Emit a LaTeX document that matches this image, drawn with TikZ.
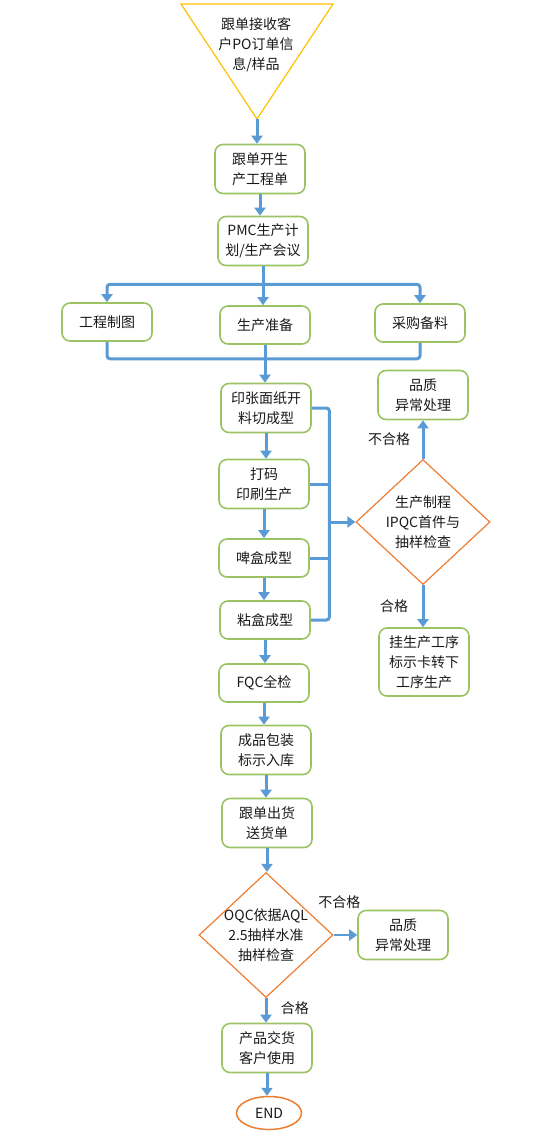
\documentclass[tikz,border=0pt]{standalone}
\usepackage{fontspec}
\setmainfont{Noto Sans CJK SC}
\usetikzlibrary{arrows.meta,shapes.geometric}

\definecolor{boxgreen}{RGB}{155,195,100}
\definecolor{flowblue}{RGB}{91,155,213}
\definecolor{checkorange}{RGB}{237,125,49}
\definecolor{startyellow}{RGB}{255,192,0}

\begin{document}
\begin{tikzpicture}[x=1pt, y=-1pt,
    every node/.style={font=\fontsize{14}{20}\selectfont, text=black!90},
    stepbox/.style={draw=boxgreen, line width=1.6pt, rounded corners=8pt, align=center,
        minimum width=90pt, minimum height=49pt, inner sep=2pt},
    shortbox/.style={stepbox, minimum height=38pt},
    check/.style={diamond, draw=checkorange, line width=1.2pt,
        minimum width=134pt, minimum height=125pt, inner sep=0pt},
    flow/.style={draw=flowblue, line width=3pt, rounded corners=3pt,
        -{Triangle[width=11pt,length=8pt]}},
    bus/.style={draw=flowblue, line width=3pt, rounded corners=3pt},
]
    \useasboundingbox (0,0) rectangle (538,1134);

    % Define coordinates
    \coordinate (topL) at (181,4);
    \coordinate (topR) at (333,4);
    \coordinate (tip) at (257,119);

    % Order received
    \draw[startyellow, line width=1.2pt] (topL) -- (topR) -- (tip) -- cycle;
    \node[align=center] (order) at (256,45) {跟单接收客\\户PO订单信\\息/样品};

    % Main column
    \node[stepbox] (job) at (260,169) {跟单开生\\产工程单};
    \node[stepbox] (pmc) at (263,241) {PMC生产计\\划/生产会议};
    \node[shortbox] (drawing) at (107,322) {工程制图};
    \node[shortbox] (prep) at (265,325) {生产准备};
    \node[shortbox] (purchase) at (420,323) {采购备料};
    \node[stepbox] (cut) at (266,408) {印张面纸开\\料切成型};
    \node[stepbox] (printing) at (264,484) {打码\\印刷生产};
    \node[shortbox] (diecut) at (264,558) {啤盒成型};
    \node[shortbox] (glue) at (265,620) {粘盒成型};
    \node[shortbox] (fqc) at (264,683) {FQC全检};
    \node[stepbox] (pack) at (266,750) {成品包装\\标示入库};
    \node[stepbox] (ship) at (267,823) {跟单出货\\送货单};
    \node[check] (oqc) at (266,935) {};
    \node[align=center] (oqcText) at (oqc) {OQC依据AQL\\2.5抽样水准\\抽样检查};
    \node[stepbox] (deliver) at (267,1048) {产品交货\\客户使用};
    \node[ellipse, draw=checkorange, line width=1.5pt, minimum width=65pt,
        minimum height=33pt] (end) at (269,1113) {END};

    % Inspection branches
    \node[check] (ipqc) at (423,522) {};
    \node[align=center] (ipqcText) at (ipqc) {生产制程\\IPQC首件与\\抽样检查};
    \node[stepbox] (ipqcFail) at (423,395) {品质\\异常处理};
    \node[stepbox, minimum height=68pt] (nextStep) at (424,662) {挂生产工序\\标示卡转下\\工序生产};
    \node[stepbox] (oqcFail) at (403,935) {品质\\异常处理};

    % Split and merge points
    \coordinate (split) at ([yshift=-18pt]pmc.south);
    \coordinate (join) at ([yshift=-14pt]prep.south);
    \coordinate (merge) at ([xshift=-26pt]ipqc.west);

    % Flow
    \draw[flow] (tip) -- (tip |- job.north);
    \draw[flow] (job.south) -- (job.south |- pmc.north);
    \draw[flow] (pmc.south) -- (pmc.south |- prep.north);
    \draw[flow] (split) -| (drawing.north);
    \draw[flow] (split) -| (purchase.north);
    \draw[bus] (drawing.south) |- (join) -| (purchase.south);
    \draw[flow] (prep.south) -- (prep.south |- cut.north);
    \draw[flow] (cut.south) -- (cut.south |- printing.north);
    \draw[flow] (printing.south) -- (printing.south |- diecut.north);
    \draw[flow] (diecut.south) -- (diecut.south |- glue.north);
    \draw[flow] (glue.south) -- (glue.south |- fqc.north);
    \draw[flow] (fqc.south) -- (fqc.south |- pack.north);
    \draw[flow] (pack.south) -- (pack.south |- ship.north);
    \draw[flow] (ship.south) -- (ship.south |- oqc.north);
    \draw[flow] (oqc.south) -- (oqc.south |- deliver.north)
        node[pos=0.4, right=10pt] (oqcPass) {合格};
    \draw[flow] (deliver.south) -- (deliver.south |- end.north);
    \draw[flow, line width=2.2pt] (oqc.east) -- (oqc.east -| oqcFail.west)
        node[midway, above=22pt, xshift=-6pt] (oqcNg) {不合格};

    % Process inspection
    \draw[bus] (cut.east) -| (merge) |- (glue.east);
    \draw[bus] (printing.east) -- (printing.east -| merge);
    \draw[bus] (diecut.east) -- (diecut.east -| merge);
    \draw[flow] (merge) -- (ipqc.west);
    \draw[flow] (ipqc.north) -- (ipqcFail.south)
        node[midway, left=8pt] (ipqcNg) {不合格};
    \draw[flow] (ipqc.south) -- (ipqc.south |- nextStep.north)
        node[midway, left=10pt] (ipqcPass) {合格};
\end{tikzpicture}
\end{document}
